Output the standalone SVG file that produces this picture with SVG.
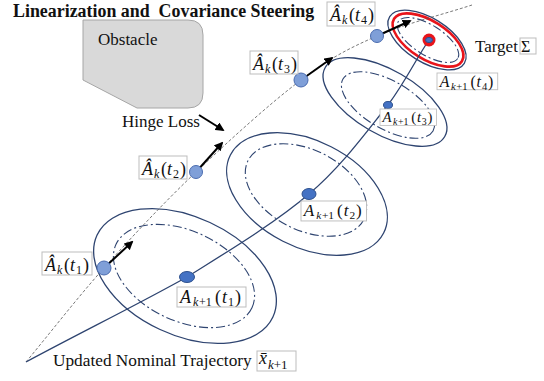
<svg xmlns="http://www.w3.org/2000/svg" width="544" height="381" viewBox="0 0 544 381">
<defs>
<style>
text{font-family:"Liberation Serif","Times New Roman",serif;fill:#111;}
.t17{font-size:17px;}
.title{font-size:17.9px;font-weight:bold;white-space:pre;}
.m{font-size:18px;}
.i{font-style:italic;}
.s{font-size:12px;}
.lbl{fill:#fff;stroke:#bdbdbd;stroke-width:1;}
.ell{fill:none;stroke:#2e4470;stroke-width:1.3;}
.dd{fill:none;stroke:#2e4470;stroke-width:1.1;stroke-dasharray:9 3 2 3;}
.traj{fill:none;stroke:#2e4470;stroke-width:1.3;}
.nom{fill:none;stroke:#555;stroke-width:0.8;stroke-dasharray:3 2;}
.arr{stroke:#000;stroke-width:2;marker-end:url(#ah);}
.ak{fill:#7f9fd8;stroke:#4a6cb0;stroke-width:1;}
.ak1{fill:#4472c4;stroke:#2f528f;stroke-width:1;}
</style>
<marker id="ah" viewBox="0 0 10 10" refX="8" refY="5" markerWidth="4.5" markerHeight="4.5" orient="auto" markerUnits="strokeWidth">
<path d="M0,0 L10,5 L0,10 z" fill="#000"/>
</marker>
</defs>
<rect width="544" height="381" fill="#fff"/>

<text class="title" x="13" y="17" font-family="Liberation Serif, serif">Linearization and  Covariance Steering</text>

<g id="obstacle">
<path d="M83,20 H188 Q203,20 203,35 V93 Q203,108 188,108 H137 L83,80 Z" fill="#d9d9d9" stroke="#a6a6a6" stroke-width="1"/>
<text class="t17" x="98" y="45" font-family="Liberation Serif, serif">Obstacle</text>
</g>

<g id="hinge-loss">
<text class="t17" x="122" y="127" font-family="Liberation Serif, serif">Hinge Loss</text>
</g>

<g id="covariance-ellipses">
<ellipse class="ell" cx="185" cy="276" rx="97" ry="59" transform="rotate(25 185 276)"/>
<ellipse class="dd" cx="184" cy="276" rx="75" ry="45" transform="rotate(25 184 276)"/>
<ellipse class="ell" cx="307" cy="194" rx="86" ry="53" transform="rotate(27 307 194)"/>
<ellipse class="dd" cx="306" cy="190" rx="65" ry="40" transform="rotate(27 306 190)"/>
<ellipse class="ell" cx="385" cy="102" rx="69" ry="32" transform="rotate(30 385 102)"/>
<ellipse class="dd" cx="388" cy="105" rx="52" ry="24" transform="rotate(30 388 105)"/>
<ellipse class="ell" cx="427" cy="40" rx="44" ry="22" transform="rotate(32 427 40)"/>
<ellipse fill="none" stroke="#e8141b" stroke-width="2.6" cx="428" cy="40" rx="40" ry="19" transform="rotate(32 428 40)"/>
<ellipse class="dd" cx="428" cy="40" rx="35" ry="15" transform="rotate(32 428 40)"/>
</g>

<g id="connectors">
<path class="nom" d="M26,362 C52,330.7 75.7,299.7 104,268 C132.3,236.3 163.2,203.3 196,172 C228.8,140.7 270.8,102.7 301,80 C331.2,57.3 348.5,48.5 377,36 C405.5,23.5 440.3,15.3 472,5"/>
<path class="traj" d="M26,362 C79.3,333.3 138.8,304 187,277 C233.2,248 275.5,222.5 309,194 C342.5,165.5 367.2,130.7 388,105 C406.8,79.3 414.3,61.7 429,40"/>
<line class="arr" x1="104" y1="268" x2="132" y2="242"/>
<line class="arr" x1="196" y1="172" x2="222" y2="143"/>
<line class="arr" x1="301" y1="80" x2="332" y2="58"/>
<line class="arr" x1="377" y1="36" x2="410" y2="21"/>
<line class="arr" x1="199" y1="115" x2="223" y2="130"/>
</g>

<g id="Ak-t1">
<circle class="ak" cx="104" cy="268" r="7"/>
<g transform="translate(42,252)">
<rect class="lbl" width="50" height="23"/>
<text class="m" y="19" font-family="Liberation Serif, serif"><tspan x="3" class="i">Â</tspan><tspan x="15" y="22" class="s i">k</tspan><tspan x="22" y="19">(</tspan><tspan x="28" class="i">t</tspan><tspan x="34" y="22" class="s">1</tspan><tspan x="41" y="19">)</tspan></text>
</g>
</g>
<g id="Ak-t2">
<circle class="ak" cx="196" cy="172" r="6.5"/>
<g transform="translate(139,156)">
<rect class="lbl" width="48" height="23"/>
<text class="m" y="19" font-family="Liberation Serif, serif"><tspan x="3" class="i">Â</tspan><tspan x="15" y="22" class="s i">k</tspan><tspan x="22" y="19">(</tspan><tspan x="28" class="i">t</tspan><tspan x="34" y="22" class="s">2</tspan><tspan x="41" y="19">)</tspan></text>
</g>
</g>
<g id="Ak-t3">
<circle class="ak" cx="301" cy="80" r="7"/>
<g transform="translate(250,51)">
<rect class="lbl" width="48" height="23"/>
<text class="m" y="19" font-family="Liberation Serif, serif"><tspan x="3" class="i">Â</tspan><tspan x="15" y="22" class="s i">k</tspan><tspan x="22" y="19">(</tspan><tspan x="28" class="i">t</tspan><tspan x="34" y="22" class="s">3</tspan><tspan x="41" y="19">)</tspan></text>
</g>
</g>
<g id="Ak-t4">
<circle class="ak" cx="377" cy="36" r="6.5"/>
<g transform="translate(327,2)">
<rect class="lbl" width="48" height="24"/>
<text class="m" y="19" font-family="Liberation Serif, serif"><tspan x="3" class="i">Â</tspan><tspan x="15" y="22" class="s i">k</tspan><tspan x="22" y="19">(</tspan><tspan x="28" class="i">t</tspan><tspan x="34" y="22" class="s">4</tspan><tspan x="41" y="19">)</tspan></text>
</g>
</g>

<g id="Ak1-t1">
<ellipse class="ak1" cx="187" cy="277" rx="7.5" ry="5.5"/>
<g transform="translate(177,287)">
<rect class="lbl" width="69" height="20"/>
<text class="m" y="16" font-family="Liberation Serif, serif"><tspan x="3" class="i">A</tspan><tspan x="16" y="19" class="s i">k</tspan><tspan x="22" y="19" class="s">+1</tspan><tspan x="38" y="16">(</tspan><tspan x="45" class="i">t</tspan><tspan x="51" y="19" class="s">1</tspan><tspan x="58" y="16">)</tspan></text>
</g>
</g>
<g id="Ak1-t2">
<ellipse class="ak1" cx="309" cy="194" rx="7" ry="5.5"/>
<g transform="translate(301,201) scale(0.95)">
<rect class="lbl" width="69" height="21"/>
<text class="m" y="16" font-family="Liberation Serif, serif"><tspan x="3" class="i">A</tspan><tspan x="16" y="19" class="s i">k</tspan><tspan x="22" y="19" class="s">+1</tspan><tspan x="38" y="16">(</tspan><tspan x="45" class="i">t</tspan><tspan x="51" y="19" class="s">2</tspan><tspan x="58" y="16">)</tspan></text>
</g>
</g>
<g id="Ak1-t3">
<ellipse class="ak1" cx="388" cy="105" rx="4.5" ry="3.5"/>
<g transform="translate(380,109) scale(0.82)">
<rect class="lbl" width="69" height="20"/>
<text class="m" y="16" font-family="Liberation Serif, serif"><tspan x="3" class="i">A</tspan><tspan x="16" y="19" class="s i">k</tspan><tspan x="22" y="19" class="s">+1</tspan><tspan x="38" y="16">(</tspan><tspan x="45" class="i">t</tspan><tspan x="51" y="19" class="s">3</tspan><tspan x="58" y="16">)</tspan></text>
</g>
</g>
<g id="target">
<circle cx="429" cy="40" r="6.5" fill="#e8141b"/>
<ellipse class="ak1" cx="429" cy="40" rx="3.5" ry="2.6"/>
<g transform="translate(437,73) scale(0.88)">
<rect class="lbl" width="69" height="19"/>
<text class="m" y="16" font-family="Liberation Serif, serif"><tspan x="3" class="i">A</tspan><tspan x="16" y="19" class="s i">k</tspan><tspan x="22" y="19" class="s">+1</tspan><tspan x="38" y="16">(</tspan><tspan x="45" class="i">t</tspan><tspan x="51" y="19" class="s">4</tspan><tspan x="58" y="16">)</tspan></text>
</g>
<text class="t17" x="475" y="52" font-family="Liberation Serif, serif">Target</text>
<rect class="lbl" x="520" y="38" width="16" height="16"/>
<text x="521" y="52" style="font-size:16px" font-family="Liberation Serif, serif">Σ</text>
</g>

<g id="nominal-label">
<text class="t17" x="53" y="366" style="font-size:17.3px" font-family="Liberation Serif, serif">Updated Nominal Trajectory</text>
<rect class="lbl" x="257" y="351" width="39" height="20"/>
<text x="259" y="364" class="i" style="font-size:18px" font-family="Liberation Serif, serif">x̄</text>
<text x="268" y="369" style="font-size:13px" font-family="Liberation Serif, serif"><tspan class="i">k</tspan>+1</text>
</g>
</svg>
